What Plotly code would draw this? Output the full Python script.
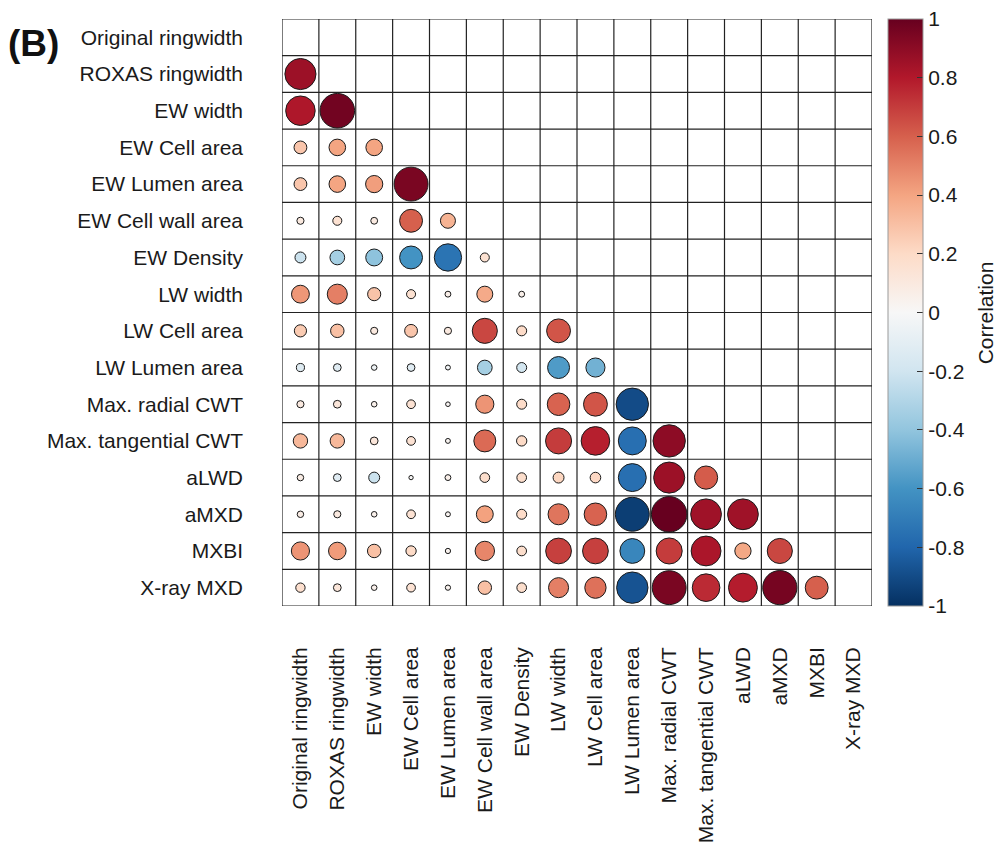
import plotly.graph_objects as go

labels = ["Original ringwidth", "ROXAS ringwidth", "EW width", "EW Cell area",
          "EW Lumen area", "EW Cell wall area", "EW Density", "LW width",
          "LW Cell area", "LW Lumen area", "Max. radial CWT", "Max. tangential CWT",
          "aLWD", "aMXD", "MXBI", "X-ray MXD"]

# lower-triangle correlations, row i vs columns 0..i-1
r_roxas = [0.86]
r_ew_width = [0.81, 0.97]
r_ew_cell = [0.28, 0.40, 0.40]
r_ew_lumen = [0.28, 0.40, 0.42, 0.95]
r_ew_wall = [0.10, 0.16, 0.09, 0.60, 0.35]
r_ew_density = [-0.22, -0.34, -0.41, -0.60, -0.74, 0.16]
r_lw_width = [0.44, 0.51, 0.29, 0.16, 0.06, 0.38, 0.06]
r_lw_cell = [0.26, 0.30, 0.10, 0.28, 0.10, 0.67, 0.19, 0.63]
r_lw_lumen = [-0.13, -0.12, -0.05, -0.12, -0.03, -0.34, -0.19, -0.57, -0.48]
r_radial = [0.10, 0.12, 0.05, 0.15, 0.02, 0.45, 0.19, 0.59, 0.63, -0.90]
r_tangential = [0.33, 0.33, 0.12, 0.15, 0.03, 0.57, 0.20, 0.70, 0.78, -0.76, 0.90]
r_alwd = [0.08, -0.12, -0.22, 0.01, 0.06, 0.18, 0.18, 0.22, 0.21, -0.76, 0.86, 0.61]
r_amxd = [0.08, 0.10, 0.05, 0.15, 0.03, 0.41, 0.19, 0.54, 0.59, -0.95, 1.00, 0.85, 0.85]
r_mxbi = [0.45, 0.43, 0.30, 0.20, 0.04, 0.49, 0.18, 0.69, 0.69, -0.66, 0.70, 0.82, 0.39, 0.67]
r_xray = [0.17, 0.12, 0.05, 0.15, 0.04, 0.30, 0.18, 0.51, 0.55, -0.87, 0.95, 0.75, 0.79, 0.96, 0.60]

rows = [[], r_roxas, r_ew_width, r_ew_cell, r_ew_lumen, r_ew_wall, r_ew_density,
        r_lw_width, r_lw_cell, r_lw_lumen, r_radial, r_tangential, r_alwd,
        r_amxd, r_mxbi, r_xray]

cbar_ticks = [1, 0.8, 0.6, 0.4, 0.2, 0, -0.2, -0.4, -0.6, -0.8, -1]
cbar_text = ["1", "0.8", "0.6", "0.4", "0.2", "0", "-0.2", "-0.4", "-0.6", "-0.8", "-1"]

rdbu = ["rgb(5,48,97)", "rgb(33,102,172)", "rgb(67,147,195)", "rgb(146,197,222)",
        "rgb(209,229,240)", "rgb(247,247,247)", "rgb(253,219,199)", "rgb(244,165,130)",
        "rgb(214,96,77)", "rgb(178,24,43)", "rgb(103,0,31)"]
colorscale = [[i / (len(rdbu) - 1), c] for i, c in enumerate(rdbu)]

xs, ys, vals = [], [], []
for i, row in enumerate(rows):
    for j, v in enumerate(row):
        xs.append(j)
        ys.append(i)
        vals.append(v)

sizes = [4 + 31.5 * abs(v) for v in vals]

FONT = "Liberation Sans, Arial, Helvetica, sans-serif"
TXT = "#1a1a1a"
FS = 21
n = len(labels)

fig = go.Figure()
fig.add_trace(go.Scatter(
    x=xs, y=ys, mode="markers",
    marker=dict(size=sizes, color=vals, colorscale=colorscale, cmin=-1, cmax=1,
                line=dict(color="#1a1a1a", width=1), opacity=1,
                showscale=True,
                colorbar=dict(x=1.0263, xanchor="left", xref="paper", xpad=0, ypad=0,
                              y=0.5, yanchor="middle", len=1.0, lenmode="fraction",
                              thickness=35, outlinewidth=1, outlinecolor="#999",
                              tickvals=cbar_ticks, ticktext=cbar_text,
                              ticklabeloverflow="allow",
                              ticks="inside", ticklen=6, tickcolor="#333",
                              tickfont=dict(family=FONT, size=FS, color=TXT))),
    hoverinfo="skip", showlegend=False))

shapes = []
for k in range(n + 1):
    shapes.append(dict(type="line", xref="x", yref="y", x0=k - 0.5, x1=k - 0.5,
                       y0=-0.5, y1=n - 0.5, line=dict(color="#222", width=1.2), layer="below"))
    shapes.append(dict(type="line", xref="x", yref="y", y0=k - 0.5, y1=k - 0.5,
                       x0=-0.5, x1=n - 0.5, line=dict(color="#222", width=1.2), layer="below"))

# page body adds an 8px offset, so the figure is sized to fit the window
fig.update_layout(
    width=996, height=835,
    margin=dict(l=274, r=132, t=11, b=237, pad=0),
    paper_bgcolor="white", plot_bgcolor="white",
    shapes=shapes,
    font=dict(family=FONT, size=FS, color=TXT),
    xaxis=dict(range=[-0.5, n - 0.5], tickvals=list(range(n)), ticktext=labels,
               tickangle=-90, showgrid=False, zeroline=False, showline=False,
               ticks="", ticklabelstandoff=36, fixedrange=True, automargin=False,
               tickfont=dict(family=FONT, size=FS, color=TXT)),
    yaxis=dict(range=[n - 0.5, -0.5], tickvals=list(range(n)), ticktext=labels,
               showgrid=False, zeroline=False, showline=False,
               ticks="", ticklabelstandoff=38, fixedrange=True, automargin=False,
               tickfont=dict(family=FONT, size=FS, color=TXT)),
    annotations=[
        dict(text="<b>(B)</b>", xref="paper", yref="paper",
             x=-0.468, y=0.958, xanchor="left", yanchor="middle",
             showarrow=False, font=dict(family=FONT, size=37, color="#111")),
        dict(text="Correlation", xref="paper", yref="paper", textangle=-90,
             x=1.193, y=0.5, xanchor="center", yanchor="middle",
             showarrow=False, font=dict(family=FONT, size=FS, color=TXT)),
    ],
)

fig.write_html("out.html")
